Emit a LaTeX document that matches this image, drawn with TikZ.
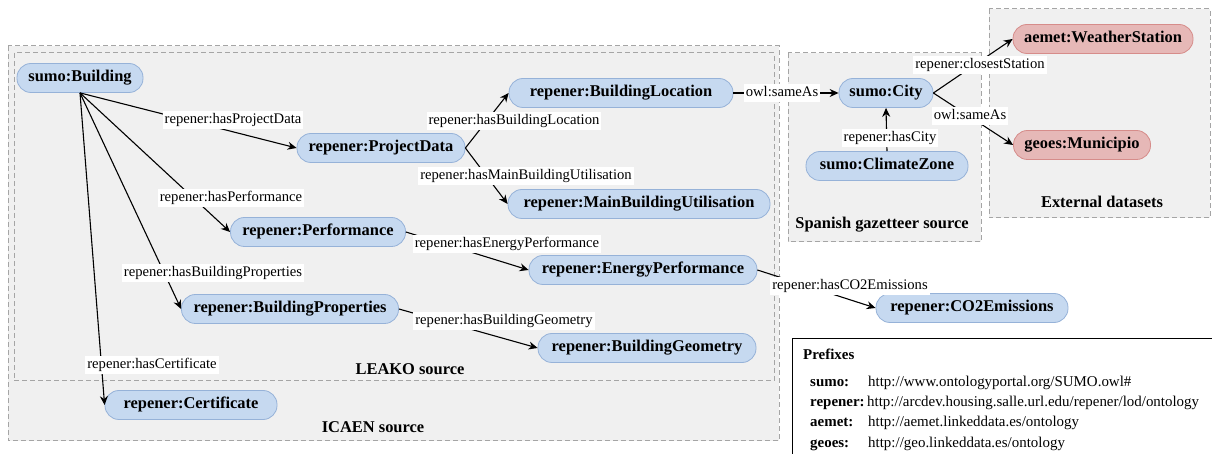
\documentclass[tikz,border=0pt]{standalone}
\usepackage{fontspec}
\setmainfont{Liberation Serif}
\usetikzlibrary{arrows.meta}
\definecolor{blueF}{RGB}{198,217,240}
\definecolor{blueB}{RGB}{150,178,216}
\definecolor{redF}{RGB}{230,184,183}
\definecolor{redB}{RGB}{214,140,138}
\definecolor{grpF}{RGB}{240,240,240}
\definecolor{grpB}{RGB}{165,165,165}
\tikzset{
  nd/.style={rectangle, rounded corners=14bp, draw=blueB, fill=blueF, line width=0.8bp,
    font=\bfseries\fontsize{16.5}{18}\selectfont, minimum height=29bp, inner sep=0pt,
    text height=11.5bp, text depth=3.5bp},
  rnd/.style={nd, draw=redB, fill=redF},
  lbl/.style={fill=white, inner xsep=2bp, inner ysep=2.5bp, font=\fontsize{14.7}{16}\selectfont,
    text height=10.5bp, text depth=3.2bp},
  arr/.style={-{Stealth[length=9bp,width=8bp,inset=3bp]}, line width=1.1bp},
  grp/.style={draw=grpB, fill=grpF, dash pattern=on 5bp off 3bp, line width=1bp},
  grptitle/.style={font=\bfseries\fontsize{16.5}{18}\selectfont, inner sep=0pt},
  pfx/.style={font=\fontsize{15}{17}\selectfont, anchor=base west, inner sep=0pt},
  pfxkey/.style={pfx, font=\bfseries\fontsize{15}{17}\selectfont}
}
\begin{document}
\begin{tikzpicture}[x=1bp, y=-1bp]
\useasboundingbox (0,0) rectangle (1212,454);
% group boxes
\draw[grp] (8,46) rectangle (779,441);
\draw[grp] (14,53) rectangle (774,381);
\draw[grp] (788,53) rectangle (981,242);
\draw[grp] (989,9) rectangle (1210,218);
\node[grptitle] (tleako) at (410,369) {LEAKO source};
\node[grptitle] (ticaen) at (373,427) {ICAEN source};
\node[grptitle] (tgaz) at (882,225) {Spanish gazetteer source};
\node[grptitle] (text) at (1102,202) {External datasets};
% nodes
\node[nd, minimum width=126bp] (b) at (80,78) {sumo:Building};
\node[nd, minimum width=168bp] (pd) at (381,148) {repener:ProjectData};
\node[nd, minimum width=224bp] (bl) at (621,93) {repener:BuildingLocation};
\node[nd, minimum width=262bp] (mbu) at (639,204) {repener:MainBuildingUtilisation};
\node[nd, minimum width=175bp] (perf) at (318,232) {repener:Performance};
\node[nd, minimum width=228bp] (ep) at (643,270) {repener:EnergyPerformance};
\node[nd, minimum width=217bp] (bp) at (290,309) {repener:BuildingProperties};
\node[nd, minimum width=218bp] (bg) at (647,348) {repener:BuildingGeometry};
\node[nd, minimum width=172bp] (cert) at (191,405) {repener:Certificate};
\node[nd, minimum width=94bp] (city) at (886,93) {sumo:City};
\node[nd, minimum width=162bp] (cz) at (887,166) {sumo:ClimateZone};
\node[rnd, minimum width=180bp] (ws) at (1103,39) {aemet:WeatherStation};
\node[rnd, minimum width=137bp] (mun) at (1082,145) {geoes:Municipio};
\node[nd, minimum width=192bp] (co2) at (972,308) {repener:CO2Emissions};
% edges
\draw[arr] (b.south) -- (pd.west);
\draw[arr] (b.south) -- (perf.west);
\draw[arr] (b.south) -- (bp.west);
\draw[arr] (b.south) -- (cert.west);
\draw[arr] (pd.east) -- (bl.west);
\draw[arr] (pd.east) -- (mbu.west);
\draw[arr] (perf.east) -- (ep.west);
\draw[arr] (bp.east) -- (bg.west);
\draw[arr] (ep.east) -- (co2.west);
\draw[arr] (bl.east) -- (city.west);
\draw[arr] (city.east) -- (ws.west);
\draw[arr] (city.east) -- (mun.west);
\draw[arr] (cz.north) -- (city.south);
% edge labels
\node[lbl] (l1) at (233,120) {repener:hasProjectData};
\node[lbl] (l2) at (231,198) {repener:hasPerformance};
\node[lbl] (l3) at (213,273) {repener:hasBuildingProperties};
\node[lbl] (l4) at (152,365) {repener:hasCertificate};
\node[lbl] (l5) at (514,121) {repener:hasBuildingLocation};
\node[lbl] (l6) at (526,176) {repener:hasMainBuildingUtilisation};
\node[lbl] (l7) at (507,244) {repener:hasEnergyPerformance};
\node[lbl] (l8) at (504,321) {repener:hasBuildingGeometry};
\node[lbl] (l9) at (850,286) {repener:hasCO2Emissions};
\node[lbl] (l10) at (782,93) {owl:sameAs};
\node[lbl] (l11) at (980,65) {repener:closestStation};
\node[lbl] (l12) at (970,116) {owl:sameAs};
\node[lbl] (l13) at (890,138) {repener:hasCity};
% prefixes box
\draw[line width=1bp, fill=white] (792,339) rectangle (1216,460);
\node[pfxkey] (ptitle) at (803,360) {Prefixes};
\node[pfxkey] (k1) at (810,387) {sumo:};
\node[pfx] (u1) at (868,387) {http://www.ontologyportal.org/SUMO.owl\#};
\node[pfxkey] (k2) at (810,407) {repener:};
\node[pfx] (u2) at (867,407) {http://arcdev.housing.salle.url.edu/repener/lod/ontology};
\node[pfxkey] (k3) at (810,427) {aemet:};
\node[pfx] (u3) at (868,427) {http://aemet.linkeddata.es/ontology};
\node[pfxkey] (k4) at (810,448) {geoes:};
\node[pfx] (u4) at (868,448) {http://geo.linkeddata.es/ontology};
\end{tikzpicture}
\end{document}
